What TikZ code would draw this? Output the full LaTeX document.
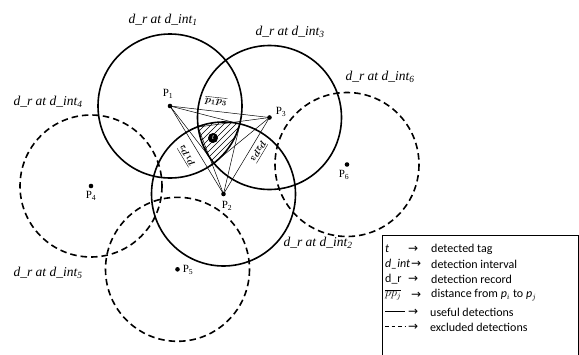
\documentclass[tikz,border=0pt]{standalone}
\usepackage{fontspec}
\setmainfont{Liberation Serif}
\newfontfamily\tms{Liberation Serif}
\newfontfamily\legendfont{Carlito}
\newfontfamily\arrowfont{DejaVu Sans}
\begin{document}
\begin{tikzpicture}[x=1pt,y=-1pt,
  solidc/.style={line width=1.6pt},
  dashc/.style={line width=1.6pt, dash pattern=on 6.5pt off 4pt},
  rline/.style={line width=0.5pt},
  pdot/.style={circle, fill=black, inner sep=0pt, minimum size=4.6pt},
  plabel/.style={font=\tms\fontsize{11}{12}\selectfont, inner sep=0pt},
  clabel/.style={font=\tms\fontsize{13.5}{15}\selectfont\itshape, inner sep=0pt},
  seglabel/.style={font=\fontsize{10}{11}\selectfont\boldmath, inner sep=0pt},
  legsym/.style={font=\fontsize{12}{14}\legendfont, anchor=west, inner sep=0pt},
  legarrow/.style={font=\fontsize{12}{14}\arrowfont, anchor=west, inner sep=0pt},
  legtext/.style={font=\fontsize{12}{14}\legendfont, anchor=west, inner sep=0pt},
]
\useasboundingbox (0,0) rectangle (579,354);
\fill[white] (0,0) rectangle (579,354);

% centres
\coordinate (P1) at (170,106);
\coordinate (P2) at (223.5,194);
\coordinate (P3) at (269.5,117.5);
\coordinate (P4) at (91,186);
\coordinate (P5) at (177.5,269.3);
\coordinate (P6) at (347,164.5);
% corners of the common region
\coordinate (A) at (198,127);
\coordinate (B) at (240,124);
\coordinate (C) at (214,163);

% hatched common region
\begin{scope}
  \clip (P1) circle[radius=72];
  \clip (P2) circle[radius=72];
  \clip (P3) circle[radius=72];
  \foreach \c in {300,306,...,432}
    \draw[line width=0.6pt] (\c-100,100) -- (\c-200,200);
\end{scope}

% circles
\draw[solidc] (P1) circle[radius=72];
\draw[solidc] (P2) circle[radius=72];
\draw[solidc] (P3) circle[radius=72];
\draw[dashc] (P4) circle[radius=71];
\draw[dashc] (P5) circle[radius=72];
\draw[dashc] (P6) circle[radius=72];

% distance lines
\draw[rline] (P1) -- (P3) -- (P2) -- cycle;
\draw[rline] (P1) -- (B);
\draw[rline] (P1) -- (C);
\draw[rline] (P3) -- (A);
\draw[rline] (P3) -- (C);
\draw[rline] (P2) -- (A);
\draw[rline] (P2) -- (B);

% dots
\node[pdot] (d1) at (P1) {};
\node[pdot] (d2) at (P2) {};
\node[pdot] (d3) at (P3) {};
\node[pdot] (d4) at (P4) {};
\node[pdot] (d5) at (P5) {};
\node[pdot] (d6) at (P6) {};

% tag
\node[circle, fill=black, minimum size=10pt, inner sep=0pt,
      font=\fontsize{7}{7}\selectfont\itshape, text=white] (t) at (213,138) {t};

% point labels
\node[plabel] (l1) at (168,94) {P\textsubscript{1}};
\node[plabel] (l2) at (227,206) {P\textsubscript{2}};
\node[plabel] (l3) at (281,112) {P\textsubscript{3}};
\node[plabel] (l4) at (91,196) {P\textsubscript{4}};
\node[plabel] (l5) at (188,270) {P\textsubscript{5}};
\node[plabel] (l6) at (344,175) {P\textsubscript{6}};

% segment labels
\node[seglabel, rotate=-6] (s13) at (216,101) {$\overline{p_1p_3}$};
\node[seglabel, rotate=121] (s12) at (186,156) {$\overline{p_1p_2}$};
\node[seglabel, rotate=-121] (s23) at (259,152) {$\overline{p_2p_3}$};

% circle labels
\node[clabel] (c1) at (163,20) {d\_r at d\_int\textsubscript{1}};
\node[clabel] (c3) at (290,32) {d\_r at d\_int\textsubscript{3}};
\node[clabel] (c6) at (380,77) {d\_r at d\_int\textsubscript{6}};
\node[clabel] (c4) at (48,102) {d\_r at d\_int\textsubscript{4}};
\node[clabel] (c5) at (48,273) {d\_r at d\_int\textsubscript{5}};
\node[clabel] (c2) at (318,243) {d\_r at d\_int\textsubscript{2}};

% legend
\draw[line width=0.8pt] (382,356) -- (382,235) -- (578.5,235) -- (578.5,356);
\node[legsym] (k1) at (385,249) {\itshape t};
\node[legsym] (k2) at (385,264) {\itshape d\_int};
\node[legsym] (k3) at (385,279) {d\_r};
\node[legsym] (k4) at (385,295) {$\overline{pp_j}$};
\coordinate (k5a) at (385,311);
\coordinate (k5b) at (405,311);
\draw[line width=0.9pt] (k5a) -- (k5b);
\coordinate (k6a) at (385,326);
\coordinate (k6b) at (406,326);
\draw[line width=0.9pt, dash pattern=on 3.5pt off 3pt] (k6a) -- (k6b);
\foreach \y/\x [count=\n] in {249/408,264/411,279/408,295/411,312/408,327/408}
  \node[legarrow] (ar\n) at (\x,\y) {→};
\node[legtext] (e1) at (431,249) {detected tag};
\node[legtext] (e2) at (431,264) {detection interval};
\node[legtext] (e3) at (431,279) {detection record};
\node[legtext] (e4) at (431,295) {distance from \textit{p}$_i$ to \textit{p}$_j$};
\node[legtext] (e5) at (430,312) {useful detections};
\node[legtext] (e6) at (430,327) {excluded detections};
\end{tikzpicture}
\end{document}
